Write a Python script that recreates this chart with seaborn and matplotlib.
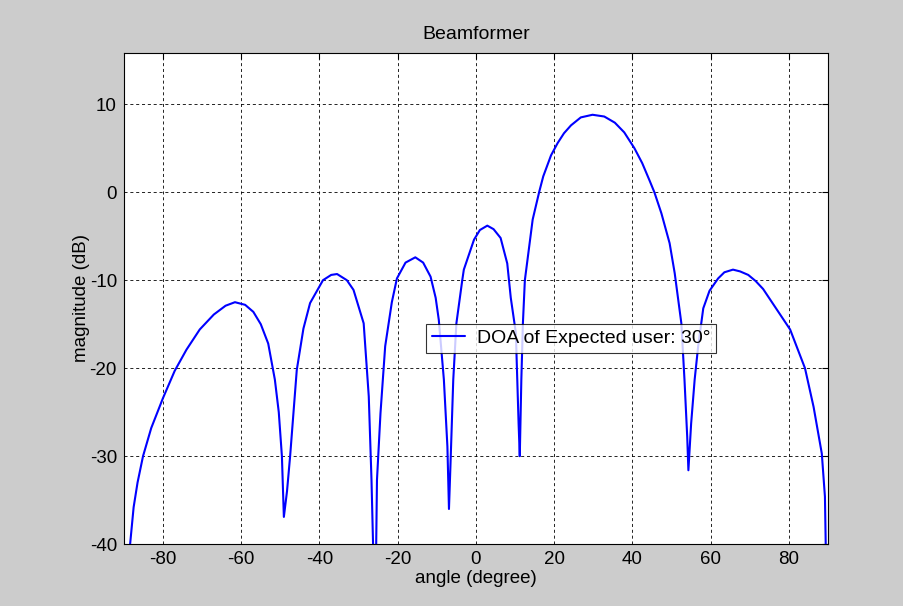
import matplotlib
matplotlib.use("Agg")
import matplotlib.pyplot as plt
import seaborn as sns
import pandas as pd

# kąty (stopnie) i charakterystyka (dB)
angle = [-89.0, -88.4, -87.5, -86.5, -85.1, -83.0, -80.0, -77.0, -74.0, -70.6,
         -67.0, -64.0, -61.6, -59.0, -56.9, -55.0, -53.1, -51.4, -50.4, -49.6,
         -49.1, -48.3, -47.5, -45.8, -44.1, -42.4, -39.1, -37.0, -35.5, -33.0,
         -31.3, -28.7, -27.4, -26.7, -26.3, -25.9, -25.5, -25.3, -24.4, -23.2,
         -21.5, -20.2, -18.0, -15.5, -13.5, -11.6, -10.3, -9.5, -8.2, -7.3,
         -6.9, -6.5, -5.8, -5.0, -3.5, -3.1, -0.5, 1.0, 2.9, 4.5,
         6.3, 8.0, 8.9, 10.2, 10.9, 11.2, 11.6, 12.0, 12.5, 14.5,
         16.2, 17.2, 19.2, 20.9, 22.5, 24.3, 26.8, 29.8, 32.8, 35.5,
         37.9, 40.5, 42.5, 44.4, 45.6, 47.4, 49.5, 50.8, 52.5, 53.3,
         54.0, 54.3, 55.0, 55.9, 56.8, 58.1, 59.7, 61.9, 63.5, 65.7,
         67.5, 69.6, 71.5, 73.4, 76.4, 80.3, 84.1, 86.3, 88.4, 89.2,
         89.4, 89.8]
magnitude = [-46.0, -40.0, -35.8, -33.0, -30.0, -26.8, -23.4, -20.3, -17.9, -15.6,
             -13.9, -12.9, -12.5, -12.8, -13.6, -15.0, -17.2, -21.3, -25.0, -30.0,
             -36.9, -34.0, -30.0, -20.2, -15.5, -12.6, -10.0, -9.4, -9.3, -10.0,
             -11.1, -14.9, -23.2, -32.7, -40.0, -52.0, -40.0, -32.7, -25.1, -17.5,
             -12.5, -9.8, -8.0, -7.4, -8.0, -9.6, -12.0, -14.5, -21.3, -28.9,
             -36.0, -30.8, -21.3, -14.9, -10.0, -8.8, -5.4, -4.3, -3.8, -4.2,
             -5.2, -8.1, -12.0, -16.0, -26.3, -30.0, -21.3, -14.9, -10.0, -3.1,
             0.1, 1.8, 4.2, 5.6, 6.7, 7.6, 8.5, 8.8, 8.6, 7.9,
             6.8, 5.0, 3.3, 1.3, 0.0, -2.4, -5.8, -9.2, -14.9, -21.3,
             -27.8, -31.6, -26.3, -21.3, -17.5, -13.2, -11.2, -9.8, -9.1, -8.8,
             -9.0, -9.4, -10.1, -11.0, -13.0, -15.6, -20.0, -24.4, -29.7, -34.6,
             -40.0, -48.0]
x_ticks = [-80, -60, -40, -20, 0, 20, 40, 60, 80]
y_ticks = [-40, -30, -20, -10, 0, 10]
legend_label = "DOA of Expected user: 30°"

df = pd.DataFrame({"angle": angle, "magnitude": magnitude})

sns.set_style("white")
plt.rcParams["font.family"] = ["Liberation Sans", "DejaVu Sans"]
plt.rcParams["lines.scale_dashes"] = False
plt.rcParams["axes.unicode_minus"] = False
plt.rcParams["text.color"] = "black"
plt.rcParams["axes.labelcolor"] = "black"

fig = plt.figure(figsize=(9.04, 6.06), dpi=100, facecolor="#cccccc")
ax = fig.add_axes([0.137, 0.102, 0.779, 0.811])
ax.set_facecolor("white")

sns.lineplot(data=df, x="angle", y="magnitude", ax=ax, color="#0000ff",
             linewidth=1.5, estimator=None, sort=False, label=legend_label)

ax.set_xlim(-90, 90)
ax.set_ylim(-40, 15.85)
ax.set_xticks(x_ticks)
ax.set_yticks(y_ticks)
ax.tick_params(direction="in", top=True, right=True, length=4, width=0.8,
               labelsize=13.5, colors="black", pad=5)
ax.grid(True, color="black", linestyle=(0, (2.2, 2.0)), linewidth=0.6)
for s in ax.spines.values():
    s.set_color("black")
    s.set_linewidth(0.8)

ax.set_title("Beamformer", fontsize=14, pad=10, color="black")
ax.set_xlabel("angle (degree)", fontsize=13.5, labelpad=1)
ax.set_ylabel("magnitude (dB)", fontsize=13.5, labelpad=0)

leg = ax.legend(loc="center", bbox_to_anchor=(0.635, 0.419), fontsize=14,
                frameon=True, fancybox=False, shadow=False, handlelength=1.7,
                handletextpad=0.6, borderpad=0.3, borderaxespad=0)
leg.get_frame().set_edgecolor("black")
leg.get_frame().set_linewidth(0.8)
for t in leg.get_texts():
    t.set_color("black")

fig.savefig("out.png", dpi=100, facecolor=fig.get_facecolor())
